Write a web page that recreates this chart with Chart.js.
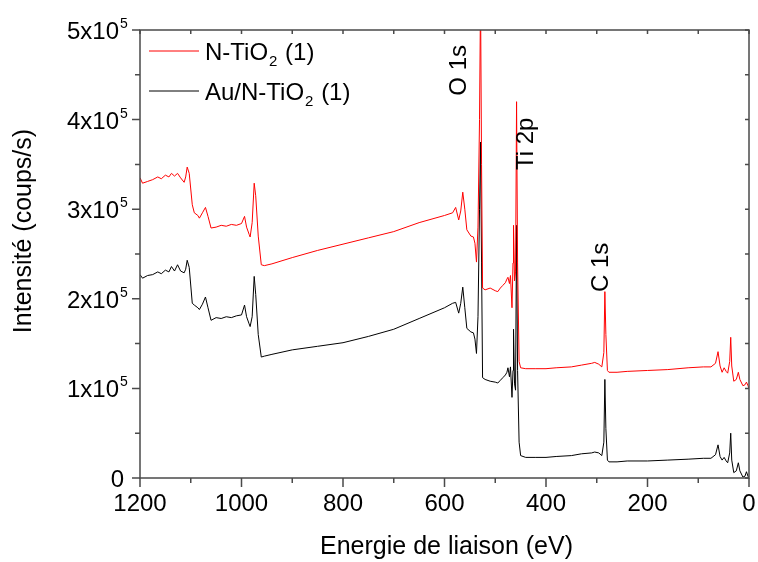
<!DOCTYPE html>
<html>
<head>
<meta charset="utf-8">
<script src="https://cdn.jsdelivr.net/npm/chart.js@4.4.1/dist/chart.umd.min.js"></script>
<style>
  html, body { margin: 0; padding: 0; background: #fff; }
</style>
</head>
<body>
<canvas id="chart1" width="758" height="562"></canvas>
<script>
// binding energy (eV), shared by both spectra
const energy = [
  1200, 1195, 1185, 1175, 1165, 1158, 1150, 1143, 1138, 1132, 1126, 1120, 1113, 1110, 1107, 1103,
  1097, 1093, 1086, 1083, 1077, 1071, 1066, 1060, 1050, 1040, 1030, 1020, 1010, 1000,
  994, 990, 985, 983, 979, 975, 972, 967, 961, 955, 940, 900, 850, 800, 750, 700, 650, 600,
  584, 578, 572, 568, 564, 560, 556, 548, 543, 540, 537, 534, 531, 529, 527, 525, 520, 510,
  500, 495, 490, 485, 480, 477, 475, 472, 470, 467, 465, 464, 462, 460, 458, 456, 453, 450,
  440, 420, 400, 380, 350, 330, 310, 304, 296, 290, 286, 284, 282, 279, 276, 260, 240, 200,
  160, 120, 90, 75, 66, 61, 57, 53, 49, 45, 42, 38, 36, 34, 30, 25, 21, 18, 12, 8, 5, 2, 0
]

// intensities in units of 10^5 coups/s
const nTiO2 = [
  3.35, 3.29, 3.31, 3.33, 3.36, 3.34, 3.38, 3.36, 3.40, 3.37, 3.40, 3.35, 3.30, 3.36, 3.47, 3.40,
  3.05, 2.96, 2.93, 2.90, 2.96, 3.02, 2.92, 2.79, 2.80, 2.82, 2.81, 2.83, 2.82, 2.84,
  2.92, 2.80, 2.72, 2.69, 2.85, 3.29, 3.15, 2.70, 2.38, 2.37, 2.39, 2.46, 2.54, 2.61, 2.68, 2.75, 2.85, 2.93,
  2.96, 3.02, 2.88, 2.98, 3.19, 3.00, 2.77, 2.70, 2.69, 2.62, 2.41, 2.80, 4.00, 5.40, 3.50, 2.12, 2.10, 2.12,
  2.09, 2.08, 2.12, 2.15, 2.18, 2.22, 2.24, 2.17, 2.26, 1.90, 2.40, 2.82, 2.20, 2.30, 4.20, 2.40, 1.30, 1.23,
  1.22, 1.22, 1.22, 1.23, 1.24, 1.26, 1.28, 1.29, 1.27, 1.24, 1.40, 2.08, 1.60, 1.20, 1.18, 1.18, 1.19, 1.20,
  1.21, 1.23, 1.24, 1.24, 1.28, 1.41, 1.25, 1.18, 1.23, 1.19, 1.17, 1.30, 1.57, 1.25, 1.08, 1.10, 1.18, 1.10, 1.03, 1.04, 1.07, 1.03, 1.00
]

const auNTiO2 = [
  2.27, 2.23, 2.26, 2.27, 2.30, 2.28, 2.32, 2.30, 2.36, 2.31, 2.38, 2.31, 2.29, 2.33, 2.43, 2.35,
  1.95, 1.93, 1.90, 1.88, 1.94, 2.02, 1.90, 1.76, 1.79, 1.78, 1.80, 1.79, 1.81, 1.82,
  1.93, 1.80, 1.72, 1.69, 1.80, 2.25, 2.05, 1.60, 1.35, 1.36, 1.38, 1.43, 1.47, 1.51, 1.58, 1.66, 1.78, 1.90,
  1.95, 1.96, 1.84, 1.95, 2.13, 1.90, 1.67, 1.63, 1.62, 1.55, 1.39, 1.80, 3.00, 3.75, 2.40, 1.12, 1.10, 1.08,
  1.07, 1.06, 1.09, 1.12, 1.15, 1.18, 1.23, 1.13, 1.24, 0.90, 1.20, 1.66, 1.05, 0.98, 2.82, 1.20, 0.40, 0.25,
  0.23, 0.23, 0.23, 0.24, 0.25, 0.27, 0.28, 0.29, 0.28, 0.25, 0.40, 1.10, 0.55, 0.20, 0.18, 0.18, 0.19, 0.19,
  0.20, 0.21, 0.22, 0.22, 0.26, 0.37, 0.24, 0.20, 0.23, 0.19, 0.17, 0.28, 0.50, 0.20, 0.06, 0.08, 0.17, 0.08, 0.01, 0.02, 0.07, 0.02, 0.00
]

const seriesLabels = ['N-TiO₂ (1)', 'Au/N-TiO₂ (1)']
const seriesColors = ['#ff0000', '#000000']

const yTicks = [0, 1, 2, 3, 4, 5]
const yExponent = '5'

const peakNames = ['O 1s', 'Ti 2p', 'C 1s']
const peakEnergy = [570, 438, 291]
const peakLevel = [4.55, 3.73, 2.35]

const xTitle = 'Energie de liaison (eV)'
const yTitle = 'Intensité (coups/s)'

const font = 'Liberation Sans, Arial, sans-serif'
const axisColor = '#4a4a4a'


const toPoints = values => energy.map((e, i) => ({ x: e, y: values[i] }))

// text with a small lowered "2" (subscript) drawn from the ₂ character
const drawSubText = (ctx, text, x, y) => {
  const parts = text.split('₂')
  let cx = x
  parts.forEach((p, i) => {
    ctx.font = `24px ${font}`
    ctx.fillText(p, cx, y)
    cx += ctx.measureText(p).width
    if (i < parts.length - 1) {
      ctx.font = `15px ${font}`
      ctx.fillText('2', cx + 1, y + 6)
      cx += ctx.measureText('2').width + 2
    }
  })
}

const decorations = {
  id: 'decorations',
  afterDraw(chart) {
    const { ctx, chartArea: a, scales: { x, y } } = chart
    ctx.save()

    // frame
    ctx.strokeStyle = axisColor
    ctx.lineWidth = 1.5
    ctx.strokeRect(a.left, a.top, a.right - a.left, a.bottom - a.top)

    // x ticks, outside at bottom and inside at top
    ctx.beginPath()
    for (let v = 0; v <= 1200; v += 100) {
      const px = x.getPixelForValue(v)
      const len = v % 200 === 0 ? 9 : 5
      ctx.moveTo(px, a.bottom)
      ctx.lineTo(px, a.bottom + len)
      ctx.moveTo(px, a.top)
      ctx.lineTo(px, a.top + 4)
    }
    // y ticks, outside at left and inside at right
    for (let v = 0; v <= 5; v += 0.5) {
      const py = y.getPixelForValue(v)
      const len = Number.isInteger(v) ? 8 : 5
      ctx.moveTo(a.left, py)
      ctx.lineTo(a.left - len, py)
      ctx.moveTo(a.right, py)
      ctx.lineTo(a.right - 4, py)
    }
    ctx.stroke()

    // y tick labels  Nx10^5
    ctx.fillStyle = '#000'
    yTicks.forEach(v => {
      const py = y.getPixelForValue(v)
      ctx.textBaseline = 'alphabetic'
      if (v === 0) {
        ctx.textAlign = 'right'
        ctx.font = `24px ${font}`
        ctx.fillText('0', a.left - 16, py + 9)
        return
      }
      ctx.textAlign = 'right'
      ctx.font = `24px ${font}`
      ctx.fillText(`${v}x10`, a.left - 21, py + 9)
      ctx.textAlign = 'left'
      ctx.font = `14px ${font}`
      ctx.fillText(yExponent, a.left - 20, py - 2)
    })

    // legend inside the plot
    ctx.textAlign = 'left'
    ctx.textBaseline = 'alphabetic'
    seriesLabels.forEach((label, i) => {
      const ly = a.top + 21 + i * 40
      ctx.strokeStyle = seriesColors[i]
      ctx.lineWidth = 1
      ctx.beginPath()
      ctx.moveTo(a.left + 9, ly)
      ctx.lineTo(a.left + 59, ly)
      ctx.stroke()
      ctx.fillStyle = '#000'
      drawSubText(ctx, label, a.left + 65, ly + 9)
    })

    // peak labels
    ctx.font = `24px ${font}`
    ctx.textAlign = 'center'
    ctx.textBaseline = 'middle'
    peakNames.forEach((name, i) => {
      ctx.save()
      ctx.translate(x.getPixelForValue(peakEnergy[i]), y.getPixelForValue(peakLevel[i]))
      ctx.rotate(-Math.PI / 2)
      ctx.fillText(name, 0, 0)
      ctx.restore()
    })

    // axis titles
    ctx.font = `25px ${font}`
    ctx.fillText(xTitle, (a.left + a.right) / 2 + 2, 547)
    ctx.save()
    ctx.translate(24, 231)
    ctx.rotate(-Math.PI / 2)
    ctx.fillText(yTitle, 0, 0)
    ctx.restore()

    ctx.restore()
  }
}


const data = {
  datasets: [{
    label: seriesLabels[0],
    data: toPoints(nTiO2),
    borderColor: seriesColors[0],
    borderWidth: 1
  }, {
    label: seriesLabels[1],
    data: toPoints(auNTiO2),
    borderColor: seriesColors[1],
    borderWidth: 1
  }]
}

const options = {
  responsive: false,
  animation: false,
  layout: { padding: { top: 30, right: 9, left: 0, bottom: 0 } },
  elements: { point: { radius: 0 }, line: { tension: 0 } },
  plugins: {
    legend: { display: false },
    tooltip: { enabled: false }
  },
  scales: {
    x: {
      type: 'linear',
      min: 0,
      max: 1200,
      reverse: true,
      grid: { display: false, drawTicks: false },
      border: { display: false },
      ticks: {
        stepSize: 200,
        padding: 12,
        color: '#000',
        font: { family: font, size: 24 },
        callback: v => String(v)
      },
      afterFit: scale => {
        scale.height = 84
        scale.paddingLeft = 0
        scale.paddingRight = 0
      }
    },
    y: {
      min: 0,
      max: 5,
      grid: { display: false, drawTicks: false },
      border: { display: false },
      ticks: { display: false, stepSize: 1 },
      afterFit: scale => {
        scale.width = 140
        scale.paddingTop = 0
        scale.paddingBottom = 0
      }
    }
  }
}

new Chart('chart1', {
  type: 'line',
  data,
  options,
  plugins: [decorations]
})
</script>
</body>
</html>
